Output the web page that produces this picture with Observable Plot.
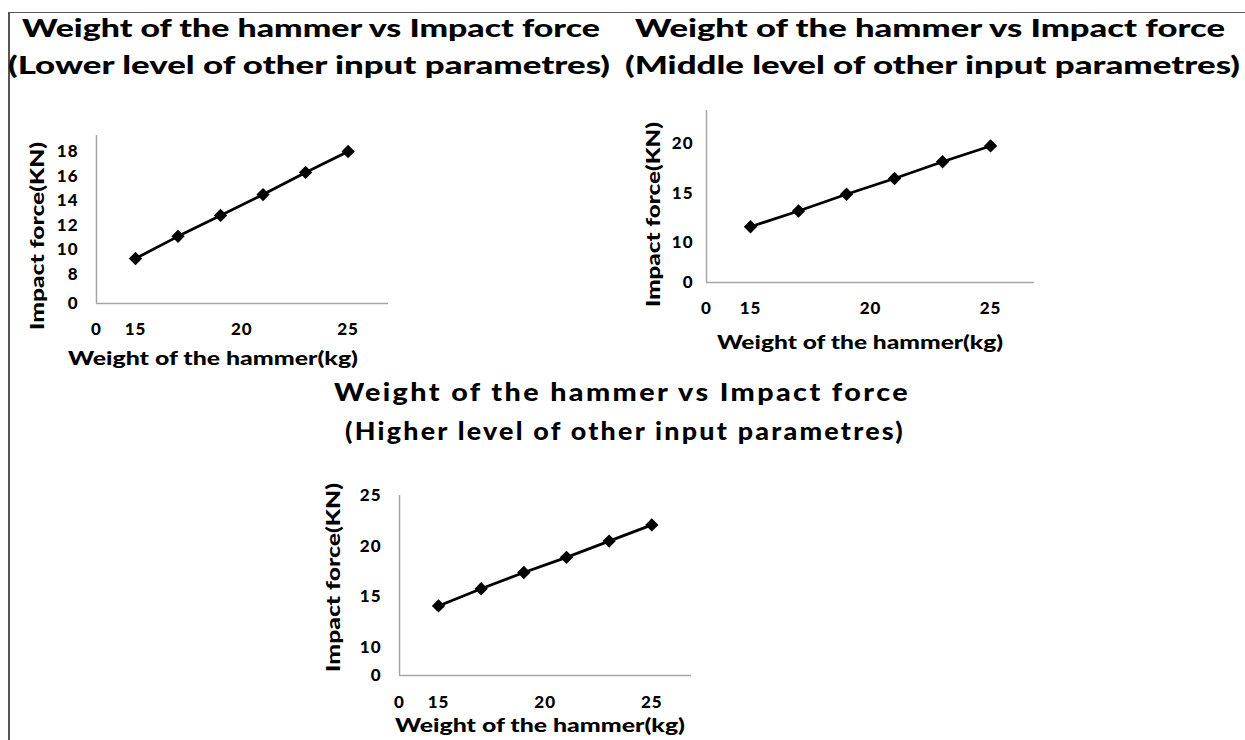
<!DOCTYPE html>
<html>
<head>
<meta charset="utf-8">
<script src="https://cdn.jsdelivr.net/npm/d3@7"></script>
<script src="https://cdn.jsdelivr.net/npm/@observablehq/plot@0.6"></script>
<style>
html, body { margin: 0; padding: 0; background: #fff; }
#root { position: relative; width: 1245px; height: 740px; overflow: hidden; background: #fff; font-family: Lato, "Open Sans", sans-serif; }
.title { position: absolute; font-weight: 900; white-space: nowrap; color: #000; line-height: 1; transform-origin: 0 50%; }
.panel { position: absolute; }
.bt { position: absolute; left: 8px; top: 12px; width: 1237px; height: 0; border-top: 1.5px solid #5a5a5a; }
.bl { position: absolute; left: 8px; top: 12px; width: 0; height: 728px; border-left: 2px solid #555; }
</style>
</head>
<body>
<div id="root"><div class="bt"></div><div class="bl"></div></div>
<script>
// ---- data ----
const hammerWeight = [15, 17, 19, 21, 23, 25];
const forceLower = [9.3, 11.1, 12.8, 14.5, 16.3, 18.0];
const forceMiddle = [11.6, 13.2, 14.9, 16.5, 18.2, 19.8];
const forceHigher = [14.1, 15.8, 17.4, 18.9, 20.5, 22.1];
const xTicks = [0, 15, 20, 25];
const yTicksLower = [0, 8, 10, 12, 14, 16, 18];
const yTicksMiddle = [0, 10, 15, 20];
const yTicksHigher = [0, 10, 15, 20, 25];
const titleMain = "Weight of the hammer vs Impact force";
const titleSub = ["(Lower level of other input parametres)", "(Middle level of other input parametres)", "(Higher level of other input parametres)"];
const xLabel = "Weight of the hammer(kg)";
const yLabel = "Impact force(KN)";

const root = document.getElementById("root");
const diamond = d3.symbolDiamond2 || d3.symbolDiamond;

function addTitle(text, left, cy, width, fs, spacing) {
  const d = document.createElement("div");
  d.className = "title";
  d.textContent = text;
  d.style.fontSize = fs + "px";
  d.style.letterSpacing = spacing + "px";
  d.style.left = left + "px";
  d.style.top = (cy - 0.527 * fs) + "px";
  root.appendChild(d);
  const w = d.getBoundingClientRect().width;
  d.style.transform = "scaleX(" + (width / w) + ")";
}

function fitText(el, cx, cy, len) {
  el.setAttribute("textLength", len);
  el.setAttribute("lengthAdjust", "spacingAndGlyphs");
  const r = el.getBoundingClientRect();
  const rr = root.getBoundingClientRect();
  const dx = cx - ((r.left + r.right) / 2 - rr.left);
  const dy = cy - ((r.top + r.bottom) / 2 - rr.top);
  el.setAttribute("transform", "translate(" + dx + "," + dy + ") " + (el.getAttribute("transform") || ""));
}

function panel(cfg, values, yTicks) {
  const data = hammerWeight.map((x, i) => ({x, y: values[i]}));
  const svg = Plot.plot({
    width: cfg.w, height: cfg.h,
    marginLeft: cfg.ml, marginRight: cfg.mr, marginTop: cfg.mt, marginBottom: cfg.mb,
    style: {fontFamily: "Lato, 'Open Sans', sans-serif", fontSize: "17px", fontWeight: "900", letterSpacing: "1px", color: "#000", background: "transparent", overflow: "visible"},
    x: {type: "linear", domain: cfg.xd, range: cfg.xr, ticks: xTicks, tickSize: 0, tickPadding: cfg.xp, label: null},
    y: {type: "linear", domain: cfg.yd, range: cfg.yr, ticks: yTicks, tickSize: 0, tickPadding: cfg.yp, label: null},
    marks: [
      Plot.ruleY([0], {stroke: "#a6a6a6", strokeWidth: 1.5}),
      Plot.ruleX([0], {stroke: "#a6a6a6", strokeWidth: 1.5}),
      Plot.line(data, {x: "x", y: "y", stroke: "#000", strokeWidth: 2.8}),
      Plot.dot(data, {x: "x", y: "y", symbol: diamond, r: 6, fill: "#000", stroke: "none"}),
      Plot.text([yLabel], {frameAnchor: "left", rotate: -90, text: d => d, fontSize: 19, fontWeight: "900", fill: "#000"}),
      Plot.text([xLabel], {frameAnchor: "bottom", text: d => d, fontSize: 19, fontWeight: "900", fill: "#000"})
    ]
  });
  const wrap = document.createElement("div");
  wrap.className = "panel";
  wrap.style.left = cfg.left + "px";
  wrap.style.top = cfg.top + "px";
  wrap.appendChild(svg);
  root.appendChild(wrap);
  const texts = svg.querySelectorAll('g[aria-label="text"] text');
  texts.forEach(t => t.style.letterSpacing = "0px");
  if (texts[0]) fitText(texts[0], cfg.yt[0], cfg.yt[1], cfg.yt[2]);
  if (texts[1]) fitText(texts[1], cfg.xt[0], cfg.xt[1], cfg.xt[2]);
}

panel({left: 0, top: 120, w: 400, h: 250, ml: 96, mr: 12, mt: 15, mb: 67,
  xd: [0, 15, 26.9], xr: [96, 135, 388], yd: [0, 8, 19.3], yr: [183, 154, 15],
  xp: 19, yp: 18, yt: [36, 236, 188], xt: [213, 357, 290]}, forceLower, yTicksLower);

panel({left: 620, top: 100, w: 420, h: 260, ml: 86, mr: 6, mt: 10, mb: 78,
  xd: [0, 15, 26.83], xr: [86, 130, 414], yd: [0, 10, 23.4], yr: [182, 142, 10],
  xp: 19, yp: 13, yt: [652, 214.5, 185], xt: [860, 341, 286]}, forceMiddle, yTicksMiddle);

panel({left: 300, top: 480, w: 420, h: 260, ml: 99, mr: 29, mt: 15, mb: 65,
  xd: [0, 15, 26.86], xr: [99, 138, 391], yd: [0, 10, 25], yr: [195, 167, 15],
  xp: 20, yp: 18, yt: [332, 577.5, 189], xt: [540, 724.5, 290]}, forceHigher, yTicksHigher);

addTitle(titleMain, 22, 29, 578, 24, 0);
addTitle(titleSub[0], 8, 66, 602, 24, 0);
addTitle(titleMain, 635, 29, 590, 24, 0);
addTitle(titleSub[1], 625, 66, 615, 24, 0);
addTitle(titleMain, 334, 393, 576, 24, 2);
addTitle(titleSub[2], 345, 432, 560, 24, 2);
</script>
</body>
</html>
